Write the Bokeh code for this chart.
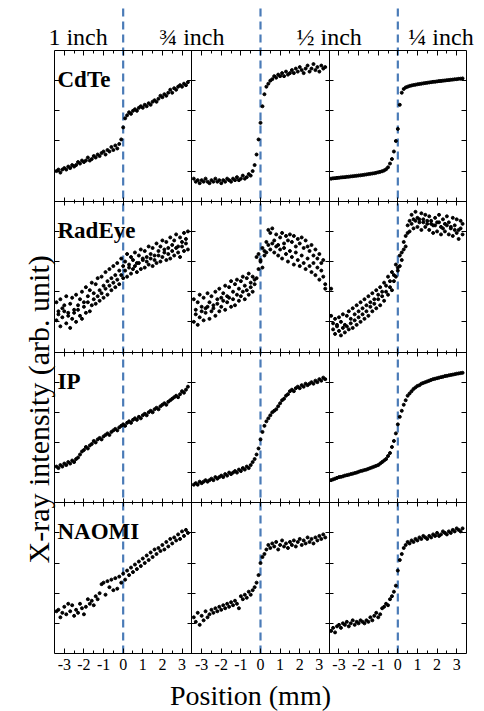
import numpy as np
from bokeh.plotting import figure
from bokeh.models import LinearAxis, FixedTicker, ColumnDataSource, Range1d
from bokeh.transform import dodge
from bokeh.core.properties import value
from bokeh.embed import file_html
from bokeh.resources import INLINE

# ---------------- data (intensity as fraction of each panel's height) ----------------
POSITION = [-3.4, -3.3, -3.2, -3.1, -3.0, -2.9, -2.8, -2.7, -2.6, -2.5,
            -2.4, -2.3, -2.2, -2.1, -2.0, -1.9, -1.8, -1.7, -1.6, -1.5,
            -1.4, -1.3, -1.2, -1.1, -1.0, -0.9, -0.8, -0.7, -0.6, -0.5,
            -0.4, -0.3, -0.2, -0.1, 0.0, 0.1, 0.2, 0.3, 0.4, 0.5,
            0.6, 0.7, 0.8, 0.9, 1.0, 1.1, 1.2, 1.3, 1.4, 1.5,
            1.6, 1.7, 1.8, 1.9, 2.0, 2.1, 2.2, 2.3, 2.4, 2.5,
            2.6, 2.7, 2.8, 2.9, 3.0, 3.1, 3.2, 3.3]

DETECTORS = ["CdTe", "RadEye", "IP", "NAOMI"]
THICKNESS = ["1 inch", "\u00be inch", "\u00bd inch", "\u00bc inch"]
X_TICK_VALUES = [-3, -2, -1, 0, 1, 2, 3]
X_TICK_LABELS = ["-3", "-2", "-1", "0", "1", "2", "3"]
X_LABEL = "Position (mm)"
Y_LABEL = "X-ray intensity (arb. unit)"

cdte_1 = [0.20, 0.21, 0.19, 0.21, 0.22, 0.21, 0.23, 0.22, 0.24, 0.23,
          0.24, 0.26, 0.25, 0.27, 0.26, 0.27, 0.29, 0.27, 0.28, 0.30,
          0.29, 0.31, 0.30, 0.32, 0.33, 0.31, 0.34, 0.33, 0.36, 0.34,
          0.37, 0.35, 0.38, 0.41, 0.49, 0.55, 0.57, 0.59, 0.58, 0.60,
          0.61, 0.60, 0.62, 0.63, 0.62, 0.64, 0.63, 0.65, 0.64, 0.66,
          0.67, 0.66, 0.68, 0.70, 0.69, 0.71, 0.70, 0.72, 0.74, 0.72,
          0.75, 0.74, 0.76, 0.77, 0.76, 0.78, 0.77, 0.79]
cdte_2 = [0.15, 0.13, 0.14, 0.12, 0.14, 0.13, 0.15, 0.13, 0.12, 0.14,
          0.13, 0.15, 0.13, 0.14, 0.12, 0.14, 0.13, 0.15, 0.14, 0.13,
          0.15, 0.14, 0.16, 0.14, 0.15, 0.17, 0.15, 0.16, 0.18, 0.17,
          0.20, 0.24, 0.31, 0.41, 0.52, 0.63, 0.71, 0.76, 0.78, 0.80,
          0.81, 0.83, 0.82, 0.84, 0.83, 0.85, 0.83, 0.86, 0.84, 0.85,
          0.87, 0.85, 0.88, 0.86, 0.89, 0.87, 0.85, 0.88, 0.90, 0.86,
          0.88, 0.91, 0.87, 0.89, 0.86, 0.90, 0.88, 0.89]
cdte_3 = [0.150, 0.152, 0.153, 0.155, 0.156, 0.158, 0.159, 0.160, 0.162, 0.163,
          0.165, 0.166, 0.168, 0.169, 0.171, 0.172, 0.174, 0.176, 0.178, 0.180,
          0.182, 0.184, 0.186, 0.189, 0.192, 0.195, 0.199, 0.204, 0.212, 0.225,
          0.250, 0.280, 0.330, 0.400, 0.480, 0.640, 0.720, 0.745, 0.755, 0.760,
          0.765, 0.768, 0.771, 0.773, 0.776, 0.778, 0.780, 0.782, 0.784, 0.786,
          0.788, 0.790, 0.792, 0.793, 0.795, 0.797, 0.798, 0.800, 0.801, 0.803,
          0.804, 0.806, 0.807, 0.809, 0.810, 0.812, 0.813, 0.815]

radeye_1a = [0.33, 0.27, 0.35, 0.29, 0.31, 0.37, 0.26, 0.32, 0.36, 0.28,
             0.38, 0.31, 0.35, 0.40, 0.33, 0.43, 0.37, 0.41, 0.46, 0.39,
             0.45, 0.49, 0.41, 0.50, 0.44, 0.53, 0.47, 0.55, 0.49, 0.57,
             0.51, 0.59, 0.54, 0.62, 0.57, 0.60, 0.65, 0.58, 0.63, 0.61,
             0.66, 0.59, 0.64, 0.68, 0.62, 0.67, 0.63, 0.70, 0.65, 0.69,
             0.64, 0.72, 0.67, 0.70, 0.74, 0.68, 0.73, 0.69, 0.76, 0.71,
             0.74, 0.78, 0.70, 0.76, 0.73, 0.79, 0.75, 0.80]
radeye_1b = [0.21, 0.25, 0.17, 0.23, 0.27, 0.19, 0.24, 0.16, 0.22, 0.26,
             0.20, 0.28, 0.24, 0.22, 0.30, 0.26, 0.33, 0.27, 0.31, 0.35,
             0.32, 0.37, 0.34, 0.39, 0.36, 0.42, 0.38, 0.44, 0.41, 0.46,
             0.43, 0.48, 0.45, 0.51, 0.49, 0.54, 0.50, 0.56, 0.52, 0.55,
             0.57, 0.53, 0.59, 0.55, 0.61, 0.56, 0.60, 0.58, 0.62, 0.57,
             0.61, 0.59, 0.64, 0.60, 0.63, 0.66, 0.61, 0.65, 0.62, 0.67,
             0.64, 0.69, 0.66, 0.63, 0.70, 0.67, 0.72, 0.68]
radeye_2a = [0.35, 0.28, 0.33, 0.38, 0.30, 0.36, 0.29, 0.39, 0.33, 0.37,
             0.31, 0.40, 0.35, 0.42, 0.36, 0.39, 0.44, 0.37, 0.43, 0.47,
             0.40, 0.45, 0.48, 0.42, 0.47, 0.50, 0.44, 0.49, 0.52, 0.46,
             0.50, 0.48, 0.63, 0.65, 0.61, 0.69, 0.67, 0.73, 0.81, 0.79,
             0.82, 0.74, 0.78, 0.71, 0.76, 0.79, 0.72, 0.77, 0.74, 0.78,
             0.73, 0.77, 0.70, 0.75, 0.72, 0.76, 0.69, 0.74, 0.70, 0.67,
             0.71, 0.64, 0.68, 0.62, 0.65, 0.59, 0.61, 0.45]
radeye_2b = [0.20, 0.25, 0.18, 0.23, 0.27, 0.21, 0.26, 0.30, 0.22, 0.27,
             0.29, 0.24, 0.32, 0.27, 0.30, 0.34, 0.28, 0.33, 0.36, 0.30,
             0.35, 0.31, 0.38, 0.34, 0.37, 0.40, 0.35, 0.41, 0.38, 0.43,
             0.40, 0.45, 0.49, 0.55, 0.60, 0.56, 0.64, 0.66, 0.71, 0.68,
             0.72, 0.66, 0.70, 0.64, 0.68, 0.62, 0.69, 0.65, 0.60, 0.67,
             0.63, 0.58, 0.66, 0.61, 0.57, 0.64, 0.59, 0.55, 0.62, 0.57,
             0.53, 0.59, 0.51, 0.56, 0.48, 0.54, 0.50, 0.42]
radeye_3a = [0.24, 0.19, 0.22, 0.17, 0.23, 0.20, 0.25, 0.18, 0.24, 0.27,
             0.22, 0.29, 0.25, 0.31, 0.27, 0.33, 0.29, 0.35, 0.31, 0.37,
             0.33, 0.39, 0.35, 0.41, 0.38, 0.43, 0.40, 0.46, 0.44, 0.50,
             0.47, 0.53, 0.51, 0.58, 0.56, 0.64, 0.66, 0.73, 0.77, 0.84,
             0.87, 0.91, 0.88, 0.93, 0.89, 0.86, 0.92, 0.88, 0.91, 0.85,
             0.90, 0.87, 0.84, 0.89, 0.86, 0.91, 0.83, 0.88, 0.85, 0.90,
             0.86, 0.82, 0.89, 0.84, 0.88, 0.81, 0.87, 0.85]
radeye_3b = [0.42, 0.15, 0.12, 0.18, 0.14, 0.11, 0.16, 0.13, 0.17, 0.15,
             0.19, 0.16, 0.21, 0.18, 0.23, 0.20, 0.25, 0.22, 0.27, 0.24,
             0.30, 0.27, 0.32, 0.29, 0.35, 0.31, 0.37, 0.34, 0.40, 0.38,
             0.43, 0.41, 0.47, 0.50, 0.54, 0.57, 0.61, 0.68, 0.70, 0.79,
             0.80, 0.85, 0.82, 0.87, 0.83, 0.88, 0.81, 0.86, 0.83, 0.87,
             0.81, 0.85, 0.79, 0.84, 0.80, 0.86, 0.78, 0.82, 0.80, 0.84,
             0.78, 0.83, 0.77, 0.81, 0.79, 0.75, 0.82, 0.78]

ip_1 = [0.24, 0.23, 0.25, 0.24, 0.26, 0.25, 0.27, 0.26, 0.28, 0.27,
        0.29, 0.30, 0.32, 0.34, 0.35, 0.37, 0.36, 0.38, 0.39, 0.41,
        0.40, 0.42, 0.43, 0.42, 0.44, 0.45, 0.46, 0.45, 0.47, 0.48,
        0.49, 0.48, 0.50, 0.51, 0.52, 0.51, 0.53, 0.54, 0.53, 0.55,
        0.56, 0.55, 0.57, 0.56, 0.58, 0.59, 0.58, 0.60, 0.61, 0.60,
        0.62, 0.63, 0.62, 0.64, 0.65, 0.66, 0.65, 0.67, 0.68, 0.69,
        0.70, 0.71, 0.70, 0.72, 0.74, 0.73, 0.75, 0.77]
ip_2 = [0.12, 0.13, 0.12, 0.14, 0.13, 0.14, 0.15, 0.14, 0.15, 0.16,
        0.15, 0.17, 0.16, 0.17, 0.18, 0.17, 0.19, 0.18, 0.20, 0.19,
        0.20, 0.21, 0.20, 0.22, 0.21, 0.23, 0.22, 0.24, 0.23, 0.25,
        0.27, 0.29, 0.32, 0.36, 0.42, 0.47, 0.51, 0.54, 0.56, 0.58,
        0.60, 0.61, 0.62, 0.64, 0.66, 0.68, 0.69, 0.71, 0.72, 0.74,
        0.75, 0.74, 0.76, 0.77, 0.76, 0.78, 0.77, 0.79, 0.78, 0.79,
        0.80, 0.79, 0.81, 0.80, 0.82, 0.81, 0.83, 0.82]
ip_3 = [0.150, 0.155, 0.160, 0.165, 0.170, 0.172, 0.175, 0.180, 0.183, 0.186,
        0.190, 0.193, 0.197, 0.200, 0.205, 0.210, 0.213, 0.217, 0.220, 0.225,
        0.230, 0.235, 0.240, 0.245, 0.250, 0.260, 0.270, 0.280, 0.290, 0.310,
        0.330, 0.370, 0.410, 0.460, 0.520, 0.570, 0.610, 0.650, 0.680, 0.710,
        0.725, 0.740, 0.755, 0.765, 0.775, 0.780, 0.790, 0.795, 0.800, 0.805,
        0.810, 0.815, 0.820, 0.823, 0.826, 0.830, 0.833, 0.836, 0.840, 0.842,
        0.845, 0.848, 0.850, 0.853, 0.856, 0.858, 0.860, 0.862]

naomi_1 = [0.28, 0.29, 0.24, 0.27, 0.31, 0.26, 0.33, 0.28, 0.32, 0.25,
           0.29, 0.27, 0.33, 0.30, 0.26, 0.31, 0.36, 0.33, 0.35, 0.32,
           0.38, 0.36, 0.40, 0.46, 0.47, 0.39, 0.48, 0.44, 0.49, 0.42,
           0.50, 0.43, 0.51, 0.47, 0.53, 0.49, 0.55, 0.52, 0.57, 0.54,
           0.59, 0.56, 0.61, 0.58, 0.63, 0.60, 0.65, 0.62, 0.67, 0.64,
           0.69, 0.66, 0.70, 0.68, 0.72, 0.69, 0.74, 0.71, 0.76, 0.73,
           0.77, 0.75, 0.79, 0.76, 0.81, 0.78, 0.82, 0.80]
naomi_2 = [0.24, 0.21, 0.27, 0.19, 0.25, 0.22, 0.28, 0.24, 0.26, 0.29,
           0.27, 0.30, 0.28, 0.31, 0.29, 0.32, 0.30, 0.33, 0.31, 0.34,
           0.32, 0.35, 0.33, 0.30, 0.38, 0.36, 0.39, 0.37, 0.41, 0.39,
           0.42, 0.44, 0.47, 0.52, 0.60, 0.64, 0.66, 0.69, 0.72, 0.70,
           0.73, 0.71, 0.74, 0.69, 0.72, 0.75, 0.71, 0.73, 0.70, 0.74,
           0.72, 0.75, 0.71, 0.74, 0.76, 0.72, 0.75, 0.73, 0.77, 0.74,
           0.76, 0.73, 0.77, 0.75, 0.78, 0.76, 0.79, 0.77]
naomi_3 = [0.15, 0.17, 0.14, 0.18, 0.19, 0.17, 0.20, 0.19, 0.21, 0.18,
           0.20, 0.22, 0.19, 0.21, 0.20, 0.22, 0.21, 0.20, 0.22, 0.21,
           0.24, 0.22, 0.25, 0.27, 0.24, 0.26, 0.30, 0.31, 0.33, 0.32,
           0.36, 0.38, 0.41, 0.45, 0.55, 0.62, 0.66, 0.70, 0.72, 0.74,
           0.73, 0.75, 0.74, 0.76, 0.75, 0.77, 0.76, 0.78, 0.77, 0.76,
           0.78, 0.77, 0.79, 0.78, 0.80, 0.78, 0.79, 0.81, 0.80, 0.79,
           0.81, 0.80, 0.82, 0.81, 0.83, 0.82, 0.81, 0.83]

PANELS = {
    ("CdTe", 0): [cdte_1], ("CdTe", 1): [cdte_2], ("CdTe", 2): [cdte_3],
    ("RadEye", 0): [radeye_1a, radeye_1b], ("RadEye", 1): [radeye_2a, radeye_2b],
    ("RadEye", 2): [radeye_3a, radeye_3b],
    ("IP", 0): [ip_1], ("IP", 1): [ip_2], ("IP", 2): [ip_3],
    ("NAOMI", 0): [naomi_1], ("NAOMI", 1): [naomi_2], ("NAOMI", 2): [naomi_3],
}

# ---------------- layout ----------------
FIG_W, FIG_H = 484, 711
GRID_LEFT_PX, GRID_TOP_PX = 54, 50          # grid corner inside the canvas
PX_PER_MM = 412 / 21.0
PX_PER_ROW = 603 / 4.0
HALF = 3.5                                  # half width of a panel in mm
COL_OFFSET = [0, 7, 14]
ROW_BASE = {"CdTe": 3, "RadEye": 2, "IP": 1, "NAOMI": 0}
GRID_X0, GRID_X1 = -HALF, COL_OFFSET[-1] + HALF

x_start = GRID_X0 - GRID_LEFT_PX / PX_PER_MM
x_end = x_start + FIG_W / PX_PER_MM
y_end = 4 + GRID_TOP_PX / PX_PER_ROW
y_start = y_end - FIG_H / PX_PER_ROW

SERIF = value("Liberation Serif")
DASH_COLOR = "#4a7bb7"
DASH_TOP = 4 + 45 / PX_PER_ROW

p = figure(width=FIG_W, height=FIG_H, output_backend="svg", toolbar_location=None,
           x_range=Range1d(x_start, x_end), y_range=Range1d(y_start, y_end),
           x_axis_location=None, y_axis_location=None, min_border=0,
           outline_line_color=None, background_fill_color="white",
           border_fill_color="white")
p.grid.visible = False

# x ticks in every column
majors = [o + t for o in COL_OFFSET for t in X_TICK_VALUES]
minors = [o + t + 0.5 for o in COL_OFFSET for t in X_TICK_VALUES[:-1]]
overrides = {o + t: lab for o in COL_OFFSET for t, lab in zip(X_TICK_VALUES, X_TICK_LABELS)}
x_ticker = FixedTicker(ticks=majors, minor_ticks=minors)
y_ticker = FixedTicker(ticks=[r + f for r in range(4) for f in (0.2, 0.4, 0.6, 0.8)],
                       minor_ticks=[])

def h_axis(loc, tin, tout, labels=False):
    ax = LinearAxis(fixed_location=loc, ticker=x_ticker, bounds=(GRID_X0, GRID_X1),
                    major_tick_in=tin, major_tick_out=tout,
                    minor_tick_in=int(round(tin * 0.6)), minor_tick_out=int(round(tout * 0.6)),
                    axis_line_color="black", major_tick_line_color="black",
                    minor_tick_line_color="black")
    if labels:
        ax.major_label_overrides = overrides
        ax.major_label_text_font = "Liberation Serif"
        ax.major_label_text_font_size = "16px"
        ax.major_label_text_color = "black"
        ax.major_label_standoff = 5
    else:
        ax.major_label_text_color = None
    p.add_layout(ax, "below")

def v_axis(loc, tin, tout):
    ax = LinearAxis(fixed_location=loc, ticker=y_ticker, bounds=(0, 4),
                    major_tick_in=tin, major_tick_out=tout,
                    axis_line_color="black", major_tick_line_color="black",
                    major_label_text_color=None)
    p.add_layout(ax, "left")

# dashed reference lines at position 0
p.segment(x0=COL_OFFSET, y0=[0, 0, 0], x1=COL_OFFSET, y1=[DASH_TOP] * 3,
          line_color=DASH_COLOR, line_width=2.2, line_dash="8 5")

for (det, col), tracks in PANELS.items():
    xs, ys = [], []
    for tr in tracks:
        xs += POSITION
        ys += tr
    src = ColumnDataSource(dict(x=xs, y=ys))
    p.scatter(x=dodge("x", COL_OFFSET[col]), y=dodge("y", ROW_BASE[det]), source=src,
              marker="circle", size=3.0, color="black")

h_axis(0, 5, 0, labels=True)
for r in (1, 2, 3):
    h_axis(r, 4, 4)
h_axis(4, 0, 5)
v_axis(GRID_X0, 5, 0)
v_axis(COL_OFFSET[0] + HALF, 4, 4)
v_axis(COL_OFFSET[1] + HALF, 4, 4)
v_axis(GRID_X1, 0, 5)

# panel labels
det_x = GRID_X0 + 3 / PX_PER_MM
p.text(x=[det_x] * 4, y=[ROW_BASE[d] + 1 - 29 / PX_PER_ROW for d in DETECTORS], text=DETECTORS,
       text_font=SERIF, text_font_style="bold", text_font_size="23px",
       text_color="black", text_align="left", text_baseline="alphabetic")

# thickness labels above the grid
TOP_LABEL_X = [-2.3, 3.5, 10.5, 16.2]
p.text(x=TOP_LABEL_X, y=[4 + 14 / PX_PER_ROW] * 4, text=THICKNESS,
       text_font=SERIF, text_font_size="24px", text_color="black",
       text_align="center", text_baseline="alphabetic")

# axis titles
p.text(x=[6.49], y=[-42 / PX_PER_ROW], text=[X_LABEL], text_font=SERIF,
       text_font_size="28px", text_color="black", text_align="center",
       text_baseline="alphabetic")
p.text(x=[GRID_X0 - 16 / PX_PER_MM], y=[90 / PX_PER_ROW], text=[Y_LABEL], angle=np.pi / 2,
       text_font=SERIF, text_font_size="30px", text_color="black",
       text_align="left", text_baseline="alphabetic")

open("out.html", "w").write(file_html(p, INLINE))
